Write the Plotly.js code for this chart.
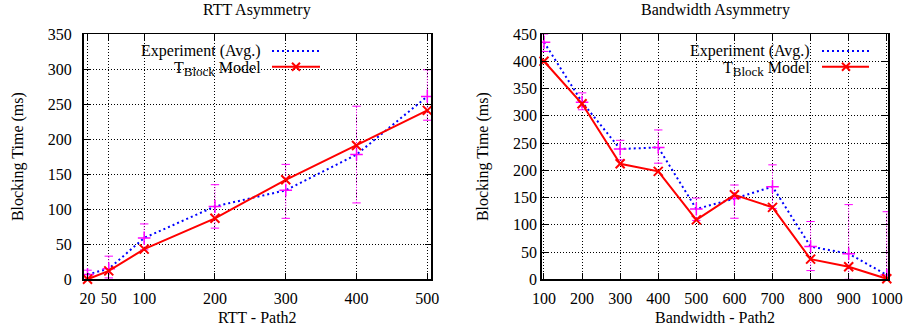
<!DOCTYPE html>
<html>
<head>
<meta charset="utf-8">
<script src="https://cdn.plot.ly/plotly-3.0.1.min.js"></script>
<style>html,body{margin:0;padding:0;background:#fff;}#chart{width:905px;height:335px;}</style>
</head>
<body>
<div id="chart"></div>
<script>
// ---- RTT asymmetry (left panel) ----
const rttX = [20, 50, 100, 200, 300, 400, 500];
const rttExp = [7, 15, 59, 104, 127, 178, 261];
const rttExpLo = [0, 2, 42, 73, 87, 109, 227];
const rttExpHi = [13, 33, 79, 135, 164, 247, 299];
const rttModel = [0, 12, 43, 87, 142, 191, 241];
const rttTicks = [20, 50, 100, 200, 300, 400, 500];
const rttYTicks = [0, 50, 100, 150, 200, 250, 300, 350];

// ---- Bandwidth asymmetry (right panel) ----
const bwX = [100, 200, 300, 400, 500, 600, 700, 800, 900, 1000];
const bwExp = [435, 325, 239, 242, 129, 148, 170, 60, 47, 8];
const bwExpLo = [418, 311, 219, 213, 108, 112, 130, 16, 0, 0];
const bwExpHi = [450, 342, 255, 274, 149, 173, 210, 106, 137, 124];
const bwModel = [400, 322, 212, 198, 109, 155, 132, 37, 23, 1];
const bwTicks = [100, 200, 300, 400, 500, 600, 700, 800, 900, 1000];
const bwYTicks = [0, 50, 100, 150, 200, 250, 300, 350, 400, 450];

const titles = ["RTT Asymmetry", "Bandwidth Asymmetry"];
const xTitles = ["RTT - Path2", "Bandwidth - Path2"];
const yTitle = "Blocking Time (ms)";
const legendNames = ["Experiment (Avg.)", "T<sub><span style=\"font-size:13px\">Block</span></sub> Model"];

const FONT = 'Liberation Serif, DejaVu Serif, serif';
const FS = 16;
const W = 905, H = 335;
const px = v => v / W;
const py = v => 1 - v / H;

function errTrace(xs, lo, hi, xa, ya) {
  const x = [], y = [];
  xs.forEach((v, i) => { x.push(v, v, null); y.push(lo[i], hi[i], null); });
  return {
    x: x, y: y, xaxis: xa, yaxis: ya, type: 'scatter', mode: 'lines+markers',
    line: {color: '#ff00ff', width: 1, dash: '1px,1.5px'},
    marker: {symbol: 'line-ew-open', size: 6, line: {color: '#ff00ff', width: 1}},
    hoverinfo: 'skip', showlegend: false, cliponaxis: true
  };
}
function expTrace(xs, ys, xa, ya) {
  return {
    x: xs, y: ys, xaxis: xa, yaxis: ya, type: 'scatter', mode: 'lines+markers',
    line: {color: '#0000ff', width: 2, dash: '2px,3px'},
    marker: {symbol: 'cross-thin-open', size: 9, color: '#ff00ff', line: {color: '#ff00ff', width: 1.5}},
    name: 'Experiment (Avg.)', showlegend: false
  };
}
function modelTrace(xs, ys, xa, ya) {
  return {
    x: xs, y: ys, xaxis: xa, yaxis: ya, type: 'scatter', mode: 'lines+markers',
    line: {color: '#ff0000', width: 2},
    marker: {symbol: 'x-thin-open', size: 9, color: '#ff0000', line: {color: '#ff0000', width: 2}},
    name: 'T_Block Model', showlegend: false, cliponaxis: false
  };
}

const data = [
  errTrace(rttX, rttExpLo, rttExpHi, 'x', 'y'),
  expTrace(rttX, rttExp, 'x', 'y'),
  modelTrace(rttX, rttModel, 'x', 'y'),
  errTrace(bwX, bwExpLo, bwExpHi, 'x2', 'y2'),
  expTrace(bwX, bwExp, 'x2', 'y2'),
  modelTrace(bwX, bwModel, 'x2', 'y2')
];

const axisCommon = {
  showline: true, linecolor: '#000', linewidth: 1.5, mirror: 'ticks',
  ticks: 'inside', ticklen: 6, tickwidth: 1, tickcolor: '#000',
  showgrid: true, gridcolor: '#000', gridwidth: 1, griddash: '1px,2px',
  zeroline: false, automargin: false, fixedrange: true,
  tickfont: {family: FONT, size: FS, color: '#000'}
};

// plot areas in pixels
const L = {x0: 83.5, x1: 431, y0: 34, y1: 279.3};
const R = {x0: 541.7, x1: 888.3, y0: 34, y1: 279.3};

const layout = {
  width: W, height: H,
  margin: {l: 0, r: 0, t: 0, b: 0, pad: 0},
  paper_bgcolor: '#fff', plot_bgcolor: '#fff',
  showlegend: false,
  font: {family: FONT, size: FS, color: '#000'},
  xaxis: Object.assign({}, axisCommon, {
    domain: [px(L.x0), px(L.x1)], range: [14.3, 505.2], anchor: 'y',
    tickmode: 'array', tickvals: rttTicks, ticklabelstandoff: 4,
    title: {text: xTitles[0], font: {family: FONT, size: FS}, standoff: 6}
  }),
  yaxis: Object.assign({}, axisCommon, {
    domain: [py(L.y1), py(L.y0)], range: [0, 350], anchor: 'x',
    tickmode: 'array', tickvals: rttYTicks, ticklabelstandoff: 7,
    title: {text: yTitle, font: {family: FONT, size: FS}, standoff: 20}
  }),
  xaxis2: Object.assign({}, axisCommon, {
    domain: [px(R.x0), px(R.x1)], range: [94, 1004], anchor: 'y2',
    tickmode: 'array', tickvals: bwTicks, ticklabelstandoff: 4,
    title: {text: xTitles[1], font: {family: FONT, size: FS}, standoff: 6}
  }),
  yaxis2: Object.assign({}, axisCommon, {
    domain: [py(R.y1), py(R.y0)], range: [0, 450], anchor: 'x2',
    tickmode: 'array', tickvals: bwYTicks, ticklabelstandoff: 0,
    title: {text: yTitle, font: {family: FONT, size: FS}, standoff: 20}
  }),
  annotations: [
    {text: titles[0], x: px(257), y: py(10), xref: 'paper', yref: 'paper', xanchor: 'center', yanchor: 'middle', showarrow: false, font: {family: FONT, size: FS}},
    {text: titles[1], x: px(715), y: py(10), xref: 'paper', yref: 'paper', xanchor: 'center', yanchor: 'middle', showarrow: false, font: {family: FONT, size: FS}},
    // left key
    {text: legendNames[0], x: px(263), y: py(51.5), xref: 'paper', yref: 'paper', xanchor: 'right', yanchor: 'middle', showarrow: false, font: {family: FONT, size: FS}},
    {text: legendNames[1], x: px(263), y: py(69), xref: 'paper', yref: 'paper', xanchor: 'right', yanchor: 'middle', showarrow: false, font: {family: FONT, size: FS}},
    // right key
    {text: legendNames[0], x: px(812), y: py(51.5), xref: 'paper', yref: 'paper', xanchor: 'right', yanchor: 'middle', showarrow: false, font: {family: FONT, size: FS}},
    {text: legendNames[1], x: px(812), y: py(69), xref: 'paper', yref: 'paper', xanchor: 'right', yanchor: 'middle', showarrow: false, font: {family: FONT, size: FS}}
  ],
  shapes: []
};

function keyShapes(boxX0, boxX1, lx0, lx1, mx) {
  const s = [];
  s.push({type: 'rect', xref: 'paper', yref: 'paper', x0: px(boxX0), x1: px(boxX1), y0: py(76), y1: py(34.5),
          fillcolor: '#fff', line: {width: 0}, layer: 'between'});
  s.push({type: 'line', xref: 'paper', yref: 'paper', x0: px(lx0), x1: px(lx1), y0: py(51), y1: py(51),
          line: {color: '#0000ff', width: 2, dash: '2px,3px'}, layer: 'above'});
  s.push({type: 'line', xref: 'paper', yref: 'paper', x0: px(lx0), x1: px(lx1), y0: py(66.7), y1: py(66.7),
          line: {color: '#ff0000', width: 2}, layer: 'above'});
  const d = 4;
  s.push({type: 'path', xref: 'paper', yref: 'paper',
          path: `M${px(mx - d)},${py(66.7 - d)} L${px(mx + d)},${py(66.7 + d)} M${px(mx - d)},${py(66.7 + d)} L${px(mx + d)},${py(66.7 - d)}`,
          line: {color: '#ff0000', width: 2}, layer: 'above'});
  return s;
}
layout.shapes = layout.shapes.concat(keyShapes(84.5, 330, 272, 320, 296), keyShapes(643, 887.5, 822, 869, 846));

Plotly.newPlot('chart', data, layout, {displayModeBar: false, staticPlot: true});
</script>
</body>
</html>
